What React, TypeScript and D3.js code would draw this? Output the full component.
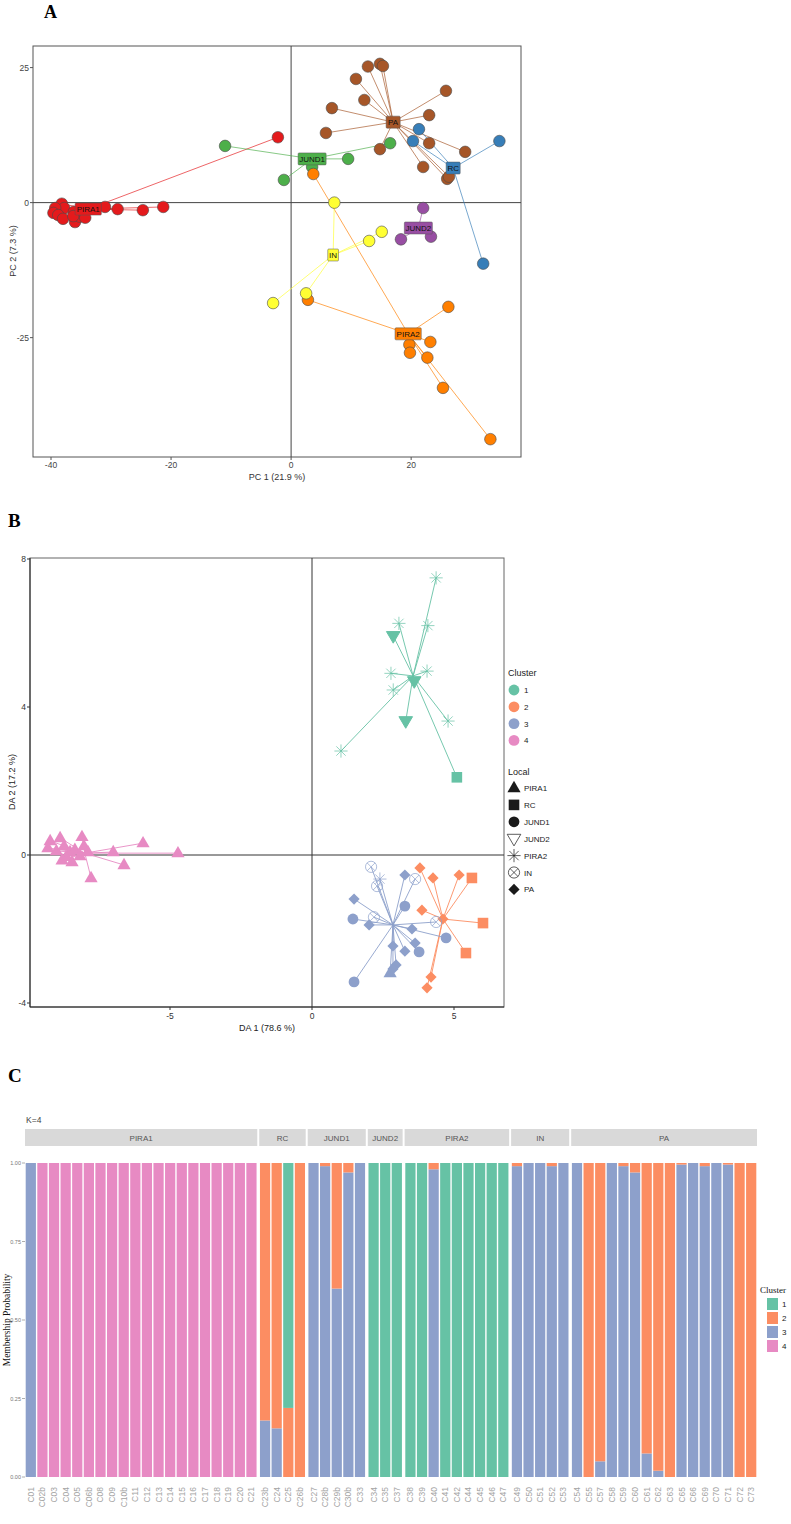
import * as d3 from "d3";

// ---------- A: PCA scores per locality ----------
const pcaGroups = ["PIRA1", "JUND1", "PIRA2", "IN", "JUND2", "PA", "RC"];
const pcaPIRA1 = [[-2.2, 12.1], [-21.3, -0.8], [-24.7, -1.4], [-28.9, -1.2], [-31.0, -0.8], [-38.2, -0.2], [-37.8, -1.0], [-39.3, -1.0], [-39.6, -1.9], [-38.8, -2.3], [-38.0, -3.0], [-36.2, -1.7], [-36.0, -3.6], [-35.2, -2.6], [-34.3, -2.8], [-36.3, -2.5]];
const pcaJUND1 = [[-11, 10.5], [-1.2, 4.2], [9.5, 8.1], [3.5, 6.6], [16.5, 11]];
const pcaPIRA2 = [[3.7, 5.3], [26.2, -19.3], [23.2, -25.8], [19.7, -26.3], [19.8, -27.8], [22.7, -28.7], [25.3, -34.3], [33.2, -43.8], [2.8, -18]];
const pcaIN = [[7.2, 0], [13, -7.1], [15.1, -5.4], [-3, -18.6], [2.5, -16.8]];
const pcaJUND2 = [[22, -1], [18.3, -6.8], [23.3, -6.3]];
const pcaPA = [[12.8, 25.2], [14.8, 25.7], [15.3, 25.3], [10.8, 22.9], [12.2, 19], [6.8, 17.5], [5.8, 12.9], [14.8, 9.9], [23, 16.2], [25.8, 20.7], [23, 11], [29, 9.4], [22, 6.6], [26, 4.4], [26.3, 4.8]];
const pcaRC = [[21.3, 13.6], [20.3, 11.4], [34.7, 11.4], [32, -11.3]];
const pcaCentroids = [[-33.8, -1.2], [3.5, 8.1], [19.5, -24.3], [7, -9.7], [21.2, -4.7], [17, 14.9], [27, 6.4]];
const pcaXTicks = [-40, -20, 0, 20];
const pcaYTicks = [-25, 0, 25];

// ---------- B: DAPC scores per cluster ----------
const daClusters = ["1", "2", "3", "4"];
const daCluster1 = [[4.37, 7.49, "PIRA2"], [3.06, 6.26, "PIRA2"], [4.08, 6.2, "PIRA2"], [2.86, 5.92, "JUND2"], [2.78, 4.91, "PIRA2"], [4.05, 4.97, "PIRA2"], [2.86, 4.46, "PIRA2"], [3.6, 4.7, "JUND2"], [3.3, 3.62, "JUND2"], [4.79, 3.62, "PIRA2"], [1.02, 2.81, "PIRA2"], [5.1, 2.1, "RC"]];
const daCluster2 = [[3.8, -0.35, "PA"], [4.26, -0.62, "PA"], [5.18, -0.54, "PA"], [5.63, -0.62, "RC"], [3.87, -1.49, "PA"], [4.61, -1.73, "PA"], [6.02, -1.84, "RC"], [5.42, -2.65, "RC"], [4.19, -3.3, "PA"], [4.05, -3.59, "PA"]];
const daCluster3 = [[2.08, -0.32, "IN"], [2.39, -0.65, "PIRA2"], [2.29, -0.84, "IN"], [3.27, -0.54, "PA"], [3.63, -0.65, "IN"], [1.48, -1.19, "PA"], [3.27, -1.38, "JUND1"], [1.44, -1.73, "JUND1"], [2.18, -1.68, "IN"], [2.01, -1.89, "PA"], [4.37, -1.81, "IN"], [3.52, -2.0, "PA"], [4.72, -2.24, "JUND1"], [2.85, -2.46, "PA"], [3.63, -2.38, "PA"], [3.77, -2.62, "JUND1"], [3.27, -2.6, "PA"], [2.96, -2.97, "PA"], [2.75, -3.19, "PIRA1"], [2.85, -3.08, "PA"], [1.48, -3.43, "JUND1"]];
const daCluster4 = [[-9.22, 0.38, "PIRA1"], [-8.87, 0.46, "PIRA1"], [-9.3, 0.19, "PIRA1"], [-9.0, 0.11, "PIRA1"], [-8.73, 0.24, "PIRA1"], [-8.52, 0.08, "PIRA1"], [-8.66, -0.05, "PIRA1"], [-8.35, 0.14, "PIRA1"], [-8.17, -0.03, "PIRA1"], [-8.45, -0.19, "PIRA1"], [-8.03, 0.24, "PIRA1"], [-8.8, -0.14, "PIRA1"], [-7.89, 0.08, "PIRA1"], [-7.78, -0.62, "PIRA1"], [-7.0, 0.08, "PIRA1"], [-6.62, -0.27, "PIRA1"], [-5.95, 0.32, "PIRA1"], [-4.72, 0.05, "PIRA1"], [-8.1, 0.49, "PIRA1"]];
const daCentroids = [[3.56, 4.84], [4.61, -1.73], [2.85, -1.89], [-8.0, 0.05]];
const localities = ["PIRA1", "RC", "JUND1", "JUND2", "PIRA2", "IN", "PA"];
const daXTicks = [-5, 0, 5];
const daYTicks = [-4, 0, 4, 8];

// ---------- C: membership probabilities (K = 4) ----------
const structPops = ["PIRA1", "RC", "JUND1", "JUND2", "PIRA2", "IN", "PA"];
const samplesPIRA1 = ["C01", "C02b", "C03", "C04", "C05", "C06b", "C08", "C09", "C10b", "C11", "C12", "C13", "C14", "C15", "C16", "C17", "C18", "C19", "C20", "C21"];
const samplesRC = ["C23b", "C24", "C25", "C26b"];
const samplesJUND1 = ["C27", "C28b", "C29b", "C30b", "C33"];
const samplesJUND2 = ["C34", "C35", "C37"];
const samplesPIRA2 = ["C38", "C39", "C40", "C41", "C42", "C44", "C45", "C46", "C47"];
const samplesIN = ["C49", "C50", "C51", "C52", "C53"];
const samplesPA = ["C54", "C55", "C57", "C58", "C59", "C60", "C61", "C62", "C63", "C65", "C66", "C69", "C70", "C71", "C72", "C73"];
const q1 = [
  0, 0, 0, 0, 0, 0, 0, 0, 0, 0, 0, 0, 0, 0, 0, 0, 0, 0, 0, 0,
  0, 0, 0.78, 0,
  0, 0, 0, 0, 0,
  1, 1, 1,
  1, 1, 0, 1, 1, 1, 1, 1, 1,
  0, 0, 0, 0, 0,
  0, 0, 0, 0, 0, 0, 0, 0, 0, 0, 0, 0, 0, 0, 0, 0,
];
const q2 = [
  0, 0, 0, 0, 0, 0, 0, 0, 0, 0, 0, 0, 0, 0, 0, 0, 0, 0, 0, 0,
  0.82, 0.845, 0.22, 1,
  0, 0.01, 0.4, 0.03, 0,
  0, 0, 0,
  0, 0, 0.02, 0, 0, 0, 0, 0, 0,
  0.01, 0, 0, 0.01, 0,
  0, 1, 0.95, 0, 0.01, 0.03, 0.925, 0.98, 1, 0.005, 0, 0.01, 0, 0.005, 1, 1,
];
const q3 = [
  1, 0, 0, 0, 0, 0, 0, 0, 0, 0, 0, 0, 0, 0, 0, 0, 0, 0, 0, 0,
  0.18, 0.155, 0, 0,
  1, 0.99, 0.6, 0.97, 1,
  0, 0, 0,
  0, 0, 0.98, 0, 0, 0, 0, 0, 0,
  0.99, 1, 1, 0.99, 1,
  1, 0, 0.05, 1, 0.99, 0.97, 0.075, 0.02, 0, 0.995, 1, 0.99, 1, 0.995, 0, 0,
];
const q4 = [
  0, 1, 1, 1, 1, 1, 1, 1, 1, 1, 1, 1, 1, 1, 1, 1, 1, 1, 1, 1,
  0, 0, 0, 0,
  0, 0, 0, 0, 0,
  0, 0, 0,
  0, 0, 0, 0, 0, 0, 0, 0, 0,
  0, 0, 0, 0, 0,
  0, 0, 0, 0, 0, 0, 0, 0, 0, 0, 0, 0, 0, 0, 0, 0,
];
const probTicks = [0, 0.25, 0.5, 0.75, 1];

const SANS = "'Liberation Sans', Arial, Helvetica, sans-serif";
const SERIF = "'Liberation Serif', 'Times New Roman', serif";
const set1 = ["#e41a1c", "#4daf4a", "#ff7f00", "#ffff33", "#984ea3", "#a65628", "#377eb8"];
const set2 = ["#66c2a5", "#fc8d62", "#8da0cb", "#e78ac3"];

// rough Helvetica advance widths (em) for sizing the label boxes
function textWidth(s: string, size: number) {
  const w: Record<string, number> = { I: 0.278, J: 0.5, "1": 0.556, "2": 0.556 };
  let t = 0;
  for (const ch of s) t += w[ch] ?? 0.69;
  return t * size;
}

// ggplot-like point shapes keyed by locality
function LocalShape({ kind, x, y, color, legend }: { kind: string; x: number; y: number; color: string; legend?: boolean }) {
  const t = `translate(${x},${y})`;
  if (kind === "PIRA1") return <path transform={t} d="M0,-7.2L6.6,4.2L-6.6,4.2Z" fill={color} />;
  if (kind === "RC") return <rect x={x - 5.3} y={y - 5.3} width={10.6} height={10.6} fill={color} />;
  if (kind === "JUND1") return <circle cx={x} cy={y} r={5.4} fill={color} />;
  if (kind === "JUND2")
    return <path transform={t} d="M0,7.2L6.8,-4.4L-6.8,-4.4Z" fill={legend ? "none" : color} stroke={color} strokeWidth={legend ? 0.7 : 1} />;
  if (kind === "PIRA2") {
    const r = 6.6, d = r * 0.707;
    return (
      <path transform={t} d={`M${-r},0H${r}M0,${-r}V${r}M${-d},${-d}L${d},${d}M${-d},${d}L${d},${-d}`} stroke={color} strokeWidth={0.7} fill="none" />
    );
  }
  if (kind === "IN") {
    const r = 5.6, d = r * 0.707;
    return (
      <g transform={t} stroke={color} strokeWidth={0.7} fill="none">
        <circle r={r} />
        <path d={`M${-d},${-d}L${d},${d}M${-d},${d}L${d},${-d}`} />
      </g>
    );
  }
  return <path transform={t} d="M0,-5.6L5.6,0L0,5.6L-5.6,0Z" fill={color} />;
}

function PcaPanel() {
  const x = d3.scaleLinear().domain([-43, 38.3]).range([33, 521]);
  const y = d3.scaleLinear().domain([-47.1, 29]).range([457, 46]);
  const pts = [pcaPIRA1, pcaJUND1, pcaPIRA2, pcaIN, pcaJUND2, pcaPA, pcaRC];
  const groups = pcaGroups.map((name, i) => ({ name, pts: pts[i], c: pcaCentroids[i], color: set1[i] }));
  return (
    <g fontFamily={SANS}>
      <text x={44} y={18} fontFamily={SERIF} fontWeight="bold" fontSize={18}>A</text>
      <rect x={33} y={46} width={488} height={411} fill="none" stroke="#555" strokeWidth={1} />
      <line x1={x(0)} x2={x(0)} y1={46} y2={457} stroke="#444" />
      <line x1={33} x2={521} y1={y(0)} y2={y(0)} stroke="#444" />
      {groups.map((g) =>
        g.pts.map((p, j) => (
          <line key={g.name + "l" + j} x1={x(g.c[0])} y1={y(g.c[1])} x2={x(p[0])} y2={y(p[1])} stroke={g.color} strokeOpacity={0.75} strokeWidth={0.9} />
        ))
      )}
      {groups.map((g) =>
        g.pts.map((p, j) => (
          <circle key={g.name + "p" + j} cx={x(p[0])} cy={y(p[1])} r={5.8} fill={g.color} stroke="#4a4a4a" strokeWidth={0.6} />
        ))
      )}
      {groups.map((g) => {
        const w = textWidth(g.name, 8) + 3;
        return (
          <g key={g.name + "lab"}>
            <rect x={x(g.c[0]) - w / 2} y={y(g.c[1]) - 6} width={w} height={12} fill={g.color} stroke="#555" strokeWidth={0.5} rx={1} />
            <text x={x(g.c[0])} y={y(g.c[1]) + 3} fontSize={8} textAnchor="middle" fill="#111">{g.name}</text>
          </g>
        );
      })}
      {pcaXTicks.map((t) => (
        <g key={"xt" + t}>
          <line x1={x(t)} x2={x(t)} y1={457} y2={460} stroke="#555" />
          <text x={x(t)} y={468} fontSize={8.5} textAnchor="middle" fill="#444">{t}</text>
        </g>
      ))}
      {pcaYTicks.map((t) => (
        <g key={"yt" + t}>
          <line x1={30} x2={33} y1={y(t)} y2={y(t)} stroke="#555" />
          <text x={29} y={y(t) + 3} fontSize={8.5} textAnchor="end" fill="#444">{t}</text>
        </g>
      ))}
      <text x={277} y={480} fontSize={9} textAnchor="middle" fill="#333">PC 1 (21.9 %)</text>
      <text transform="translate(16,251) rotate(-90)" fontSize={9} textAnchor="middle" fill="#333">PC 2 (7.3 %)</text>
    </g>
  );
}

function DapcPanel() {
  const x = d3.scaleLinear().domain([-9.93, 6.76]).range([30, 504]);
  const y = d3.scaleLinear().domain([-4.108, 8.027]).range([1007, 558]);
  const sets = [daCluster1, daCluster2, daCluster3, daCluster4];
  const groups = daClusters.map((k, i) => ({ k, pts: sets[i], c: daCentroids[i], color: set2[i] }));
  return (
    <g fontFamily={SANS}>
      <text x={8} y={527} fontFamily={SERIF} fontWeight="bold" fontSize={19}>B</text>
      <rect x={30} y={558} width={474} height={449} fill="none" stroke="#666" strokeWidth={1} />
      <line x1={30} x2={30} y1={558} y2={1007} stroke="#222" />
      <line x1={30} x2={504} y1={1007} y2={1007} stroke="#222" />
      <line x1={x(0)} x2={x(0)} y1={558} y2={1007} stroke="#333" />
      <line x1={30} x2={504} y1={y(0)} y2={y(0)} stroke="#333" />
      {groups.map((g) =>
        g.pts.map((p, j) => (
          <line key={g.k + "l" + j} x1={x(g.c[0])} y1={y(g.c[1])} x2={x(p[0] as number)} y2={y(p[1] as number)} stroke={g.color} strokeWidth={0.9} />
        ))
      )}
      {groups.map((g) =>
        g.pts.map((p, j) => <LocalShape key={g.k + "p" + j} kind={p[2] as string} x={x(p[0] as number)} y={y(p[1] as number)} color={g.color} />)
      )}
      {daXTicks.map((t) => (
        <g key={"xt" + t}>
          <line x1={x(t)} x2={x(t)} y1={1007} y2={1010} stroke="#333" />
          <text x={x(t)} y={1019} fontSize={8.5} textAnchor="middle" fill="#333">{t}</text>
        </g>
      ))}
      {daYTicks.map((t) => (
        <g key={"yt" + t}>
          <line x1={27} x2={30} y1={y(t)} y2={y(t)} stroke="#333" />
          <text x={26} y={y(t) + 3} fontSize={8.5} textAnchor="end" fill="#333">{t}</text>
        </g>
      ))}
      <text x={267} y={1031} fontSize={9} textAnchor="middle" fill="#222">DA 1 (78.6 %)</text>
      <text transform="translate(15,782) rotate(-90)" fontSize={9} textAnchor="middle" fill="#222">DA 2 (17.2 %)</text>
      <text x={508} y={676} fontSize={9} fill="#222">Cluster</text>
      {daClusters.map((k, i) => (
        <g key={"lc" + k}>
          <circle cx={514} cy={690 + i * 16.8} r={5.4} fill={set2[i]} />
          <text x={524} y={693 + i * 16.8} fontSize={8} fill="#222">{k}</text>
        </g>
      ))}
      <text x={508} y={775} fontSize={9} fill="#222">Local</text>
      {localities.map((k, i) => (
        <g key={"ll" + k}>
          <LocalShape kind={k} x={514} y={788 + i * 16.9} color="#1a1a1a" legend />
          <text x={524} y={791 + i * 16.9} fontSize={8} fill="#222">{k}</text>
        </g>
      ))}
    </g>
  );
}

function StructurePanel() {
  const popSamples = [samplesPIRA1, samplesRC, samplesJUND1, samplesJUND2, samplesPIRA2, samplesIN, samplesPA];
  const labels = popSamples.flat();
  const rows = labels.map((id, i) => ({ id, c1: q1[i], c2: q2[i], c3: q3[i], c4: q4[i] }));
  const series = d3.stack<any>().keys(["c4", "c3", "c2", "c1"])(rows);
  const fillFor: Record<string, string> = { c1: set2[0], c2: set2[1], c3: set2[2], c4: set2[3] };

  const left = 25, right = 757, gap = 2;
  const unit = (right - left - gap * (structPops.length - 1)) / labels.length;
  const y = d3.scaleLinear().domain([0, 1]).range([1477, 1163]);

  let cursor = left;
  const facets = popSamples.map((s, i) => {
    const w = s.length * unit;
    const band = d3.scaleBand<string>().domain(s).range([cursor, cursor + w]).paddingInner(0.12).paddingOuter(0.06);
    const f = { name: structPops[i], x0: cursor, w, band };
    cursor += w + gap;
    return f;
  });
  const bandOf = (id: string) => facets.find((f) => f.band.domain().includes(id))!.band;

  return (
    <g fontFamily={SANS}>
      <text x={8} y={1082} fontFamily={SERIF} fontWeight="bold" fontSize={19}>C</text>
      <text x={26} y={1123} fontSize={8.5} fill="#444">K=4</text>
      {facets.map((f) => (
        <g key={"s" + f.name}>
          <rect x={f.x0} y={1129} width={f.w} height={17} fill="#d9d9d9" />
          <text x={f.x0 + f.w / 2} y={1141} fontSize={8} textAnchor="middle" fill="#555">{f.name}</text>
        </g>
      ))}
      {series.map((s) =>
        s.map((d, j) => {
          const id = labels[j];
          const b = bandOf(id);
          const h = y(d[0]) - y(d[1]);
          if (h <= 0) return null;
          return <rect key={s.key + id} x={b(id)} y={y(d[1])} width={b.bandwidth()} height={h} fill={fillFor[s.key]} />;
        })
      )}
      {labels.map((id) => {
        const b = bandOf(id);
        const cx = (b(id) as number) + b.bandwidth() / 2;
        return (
          <text key={"xl" + id} transform={`translate(${cx},1487) rotate(-90)`} dy="0.35em" fontSize={8.5} textAnchor="end" fill="#a3a3a3">{id}</text>
        );
      })}
      {probTicks.map((t) => (
        <g key={"pt" + t}>
          <line x1={22} x2={25} y1={y(t)} y2={y(t)} stroke="#999" strokeWidth={0.8} />
          <text x={21} y={y(t) + 2} fontSize={5.5} textAnchor="end" fill="#777">{t.toFixed(2)}</text>
        </g>
      ))}
      <text transform="translate(10,1320) rotate(-90)" fontFamily={SERIF} fontSize={9.5} textAnchor="middle" fill="#111">Membership Probability</text>
      <text x={760} y={1293} fontFamily={SERIF} fontSize={9} fill="#111">Cluster</text>
      {daClusters.map((k, i) => (
        <g key={"cl" + k}>
          <rect x={767} y={1298 + i * 14} width={11} height={12} fill={set2[i]} />
          <text x={782} y={1307 + i * 14} fontSize={8} fill="#222">{k}</text>
        </g>
      ))}
    </g>
  );
}

export default function App() {
  return (
    <svg width={791} height={1524} style={{ position: "absolute", left: 0, top: 0, background: "#fff" }}>
      <rect width={791} height={1524} fill="#fff" />
      <PcaPanel />
      <DapcPanel />
      <StructurePanel />
    </svg>
  );
}
